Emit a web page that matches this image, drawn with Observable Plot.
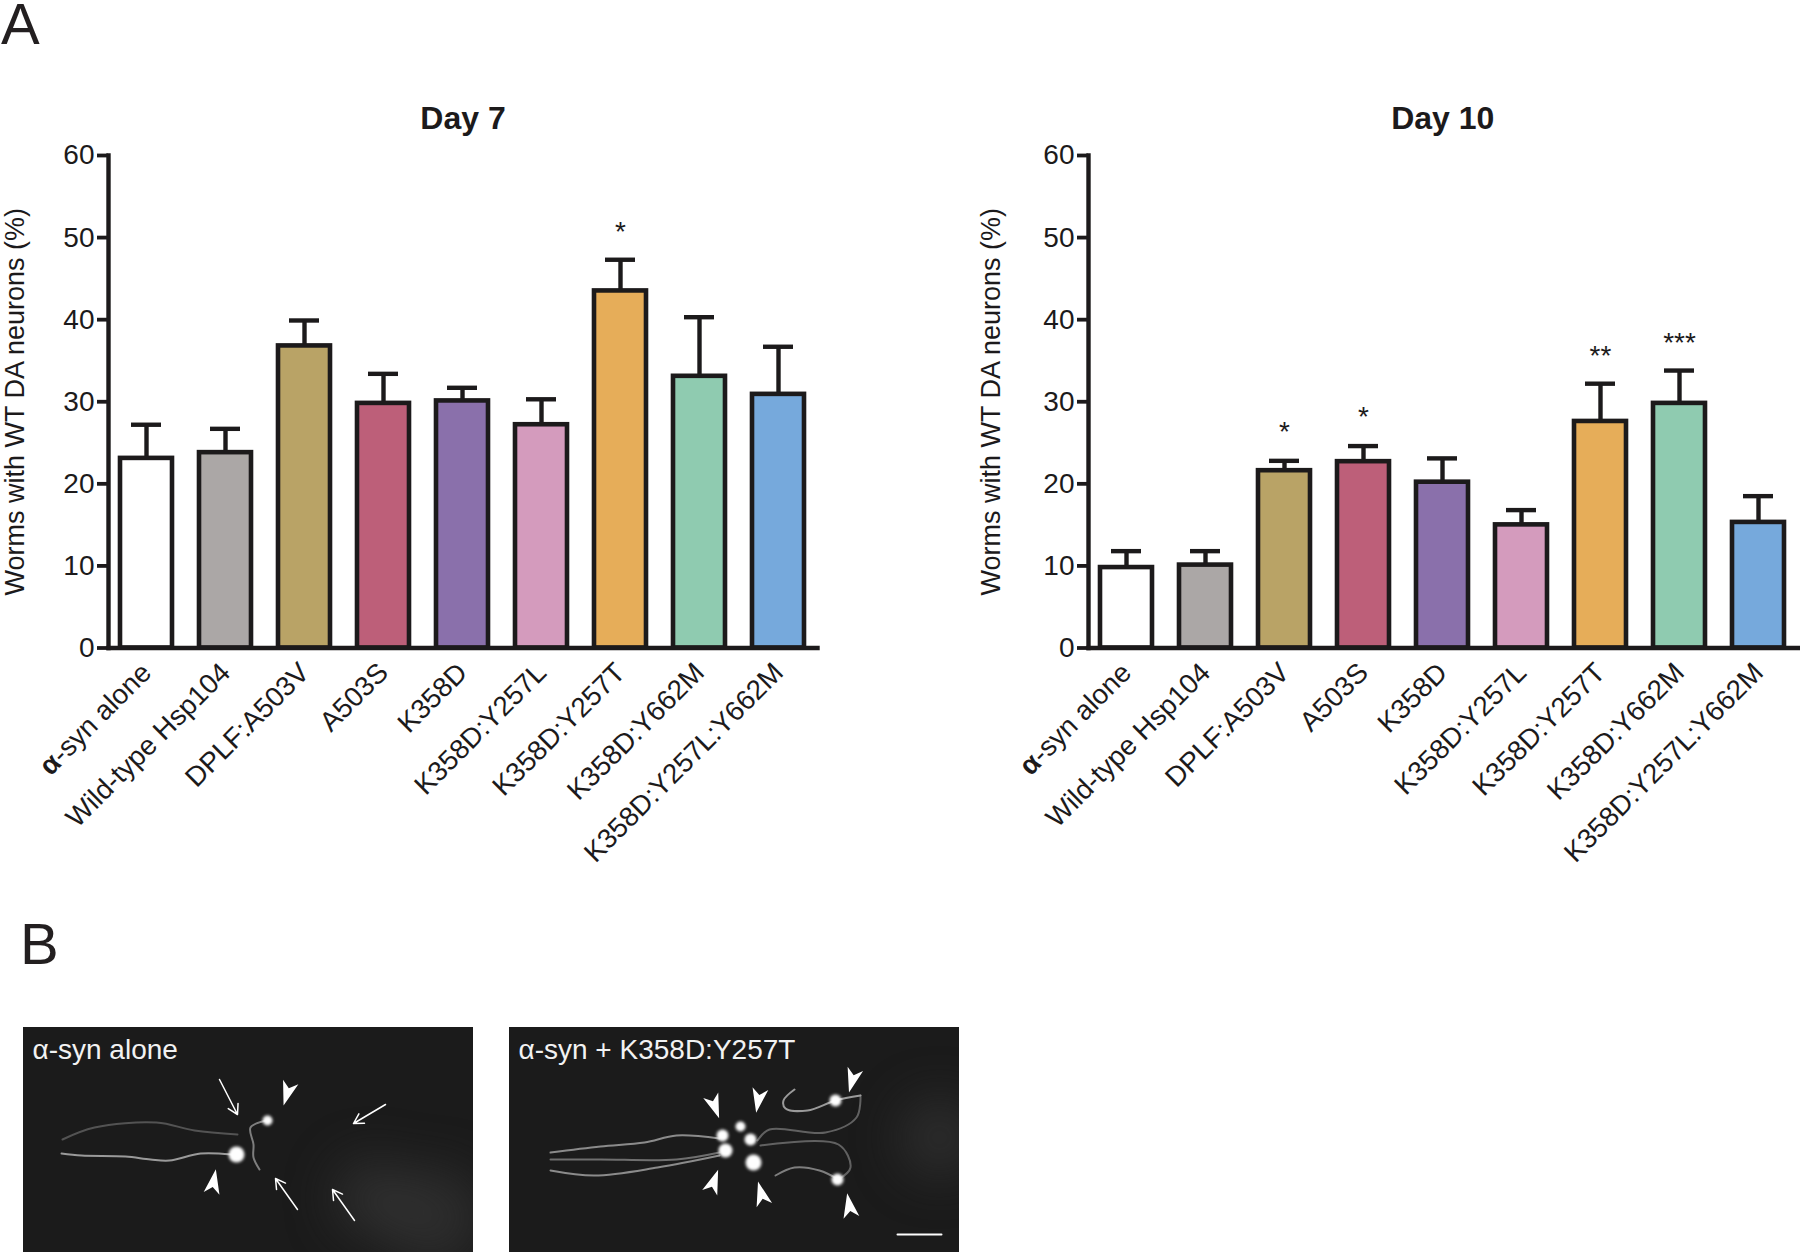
<!DOCTYPE html>
<html>
<head>
<meta charset="utf-8">
<script src="https://cdn.jsdelivr.net/npm/d3@7"></script>
<script src="https://cdn.jsdelivr.net/npm/@observablehq/plot@0.6"></script>
<style>
html,body{margin:0;padding:0;background:#fff;}
#page{position:relative;width:1800px;height:1252px;overflow:hidden;font-family:"Liberation Sans",Arial,sans-serif;color:#231f20;}
#page svg{position:absolute;display:block;overflow:hidden;font-family:"Liberation Sans",Arial,sans-serif;background:transparent;}
.letter{position:absolute;font-size:58px;line-height:.8;color:#231f20;}
#page svg g[fill="#fefefe"]{filter:blur(1.5px);}
#page svg g[fill="#3a3a3a"]{filter:blur(24px);}
#page svg g[stroke="#a8a8a8"]{filter:blur(.7px);}
</style>
</head>
<body>
<div id="page">
<div class="letter" style="left:1px;top:1px">A</div>
<div class="letter" style="left:20px;top:921px">B</div>
</div>
<script>
// Panel A data
const strains = ["α-syn alone","Wild-type Hsp104","DPLF:A503V","A503S","K358D","K358D:Y257L","K358D:Y257T","K358D:Y662M","K358D:Y257L:Y662M"];
const strainColors = ["#ffffff","#aba7a6","#b9a366","#bd5f79","#8a70ab","#d49bbd","#e6ad59","#8fcbb0","#76a9dc"];
const day7Means = [23.1,23.8,36.8,29.8,30.1,27.2,43.5,33.1,30.9];
const day7Tops  = [27.2,26.7,39.9,33.4,31.7,30.3,47.3,40.3,36.7];
const day7Stars = [["K358D:Y257T","*",50.7]];
const day10Means = [9.8,10.1,21.6,22.7,20.2,15.0,27.6,29.8,15.3];
const day10Tops  = [11.8,11.8,22.8,24.6,23.1,16.8,32.2,33.8,18.5];
const day10Stars = [["DPLF:A503V","*",26.3],["A503S","*",28.1],["K358D:Y257T","**",35.6],["K358D:Y662M","***",37.1]];
const yTicks = [0,10,20,30,40,50,60];
const yLabel = "Worms with WT DA neurons (%)";

// Panel B data (micrograph pixels)
const leftNeurites = [
  [[38,126],[58,128],[102,129],[127,132],[146,133],[177,126],[208,127]],
  [[39,112],[71,100],[133,95],[171,103],[214,107]],
  [[243,93],[227,100],[230,117],[230,130],[236,142]]
];
const leftNeuriteOpacity = [.9,.4,.7];
const leftCells = [[244,93,5],[213,127,8]];
const leftHeads = [[264,65,197],[190,155,10]];
const leftArrows = [[196,52,214,87],[362,77,330,96],[274,182,252,151],[331,193,309,162]];
const leftHaze = [[410,190,50],[350,170,40]];
const rightNeurites = [
  [[41,125],[91,119],[135,115],[167,108],[210,111]],
  [[41,132],[91,132],[167,132],[210,125]],
  [[41,143],[85,148],[148,140],[210,128]],
  [[285,62],[274,73],[276,81],[298,83],[326,73],[351,68]],
  [[351,68],[347,90],[316,105],[260,102],[248,113]],
  [[251,118],[329,117],[341,140],[329,152]],
  [[266,148],[285,140],[310,143],[329,152]]
];
const rightNeuriteOpacity = [.8,.6,.8,.9,.5,.5,.7];
const rightCells = [[326,73,6],[328,152,6],[213,108,6],[231,99,5],[241,112,6],[216,123,7],[244,135,8]];
const rightHeads = [[343,52,195],[205,78,160],[249,72,190],[204,155,20],[252,167,-15],[340,179,-10]];
const rightArrows = [];
const rightHaze = [[430,110,40]];
const scaleBar = [[388,207],[432,207]];

const ink = "#1c1a1b";
const page = document.getElementById("page");

function barChart(title, means, tops, stars, left, pad, width, marginRight, labelOffset, titleDx) {
  const rows = strains.map((s,i)=>({strain:s, mean:means[i], top:tops[i]}));
  const starRows = stars.map(([strain,label,y])=>({strain,label,y}));
  const svg = Plot.plot({
    width, height: 900,
    marginLeft: 108+pad, marginRight, marginTop: 155, marginBottom: 252.5,
    style: {background:"transparent", color: ink},
    x: {type:"band", domain: strains, range:[120+pad,804.6+pad], paddingInner:.343, paddingOuter:0, align:.5},
    y: {domain:[0,60]},
    color: {type:"ordinal", domain: strains, range: strainColors},
    marks: [
      Plot.ruleX(rows,{x:"strain",y1:"mean",y2:"top",stroke:ink,strokeWidth:4.4}),
      Plot.tickY(rows,{x:"strain",y:"top",insetLeft:11,insetRight:11,stroke:ink,strokeWidth:4.4}),
      Plot.barY(rows,{x:"strain",y:"mean",fill:"strain",stroke:ink,strokeWidth:4.6}),
      Plot.frame({anchor:"left",stroke:ink,strokeWidth:4.4}),
      Plot.frame({anchor:"bottom",stroke:ink,strokeWidth:4.4}),
      Plot.axisY({ticks:yTicks,tickSize:11,tickPadding:3,fontSize:28,stroke:ink,strokeWidth:3.8,fill:ink,
        label:null}),
      Plot.text([yLabel],{frameAnchor:"left",dx:-labelOffset,rotate:-90,fontSize:27,fill:ink,lineAnchor:"middle",textAnchor:"middle"}),
      Plot.axisX({tickSize:0,tickPadding:20,tickRotate:-45,fontSize:27.7,fill:ink,label:null}),
      Plot.text(starRows,{x:"strain",y:"y",text:"label",fontSize:28,fill:ink,lineAnchor:"middle"}),
      Plot.text([title],{frameAnchor:"top",dy:-37,dx:titleDx,fontSize:32,fontWeight:"bold",fill:ink,lineAnchor:"middle"})
    ]
  });
  svg.style.left = left+"px"; svg.style.top = "0px";
  svg.querySelectorAll("text").forEach(t=>{
    if (t.textContent==="α-syn alone") t.innerHTML='<tspan font-weight="bold">α</tspan>-syn alone';
  });
  page.appendChild(svg);
}

const arrowhead = {draw(c,size){const r=Math.sqrt(size/Math.PI);c.moveTo(0,-r*1.35);c.lineTo(r*.8,r*1.1);c.lineTo(0,r*.45);c.lineTo(-r*.8,r*1.1);c.closePath();}};

function micrograph(label, neurites, opacity, cells, heads, arrows, haze, left, bar) {
  const svg = Plot.plot({
    width:450, height:225, margin:0,
    style:{background:"transparent"},
    x:{domain:[0,450],axis:null},
    y:{domain:[225,0],axis:null},
    r:{type:"identity"},
    marks:[
      Plot.frame({fill:"#1b1b1b",stroke:"#1b1b1b"}),
      Plot.dot(haze,{x:d=>d[0],y:d=>d[1],r:d=>d[2],fill:"#3a3a3a",fillOpacity:.55}),
      neurites.map((p,i)=>Plot.line(p,{x:d=>d[0],y:d=>d[1],curve:"catmull-rom",stroke:"#a8a8a8",strokeOpacity:opacity[i],strokeWidth:2})),
      Plot.dot(cells,{x:d=>d[0],y:d=>d[1],r:d=>d[2],fill:"#fefefe"}),
      Plot.arrow(arrows,{x1:d=>d[0],y1:d=>d[1],x2:d=>d[2],y2:d=>d[3],stroke:"#ffffff",strokeWidth:1.5,headLength:11,bend:0}),
      Plot.dot(heads,{x:d=>d[0],y:d=>d[1],rotate:d=>d[2],r:{value:10},symbol:arrowhead,fill:"#ffffff",stroke:"none"}),
      bar ? Plot.line(bar,{x:d=>d[0],y:d=>d[1],stroke:"#ffffff",strokeWidth:2}) : null,
      Plot.text([label],{frameAnchor:"top-left",dx:9,dy:12,fontSize:28,fill:"#f2f2f2",lineAnchor:"top",textAnchor:"start"})
    ]
  });
  svg.style.left = left+"px"; svg.style.top = "1027px";
  page.appendChild(svg);
}

barChart("Day 7", day7Means, day7Tops, day7Stars, 0, 0, 850, 33, 93, 0);
barChart("Day 10", day10Means, day10Tops, day10Stars, 939.5, 40, 860.5, 0, 97, -2);
micrograph("α-syn alone", leftNeurites, leftNeuriteOpacity, leftCells, leftHeads, leftArrows, leftHaze, 23, null);
micrograph("α-syn + K358D:Y257T", rightNeurites, rightNeuriteOpacity, rightCells, rightHeads, rightArrows, rightHaze, 509, scaleBar);
</script>
</body>
</html>
